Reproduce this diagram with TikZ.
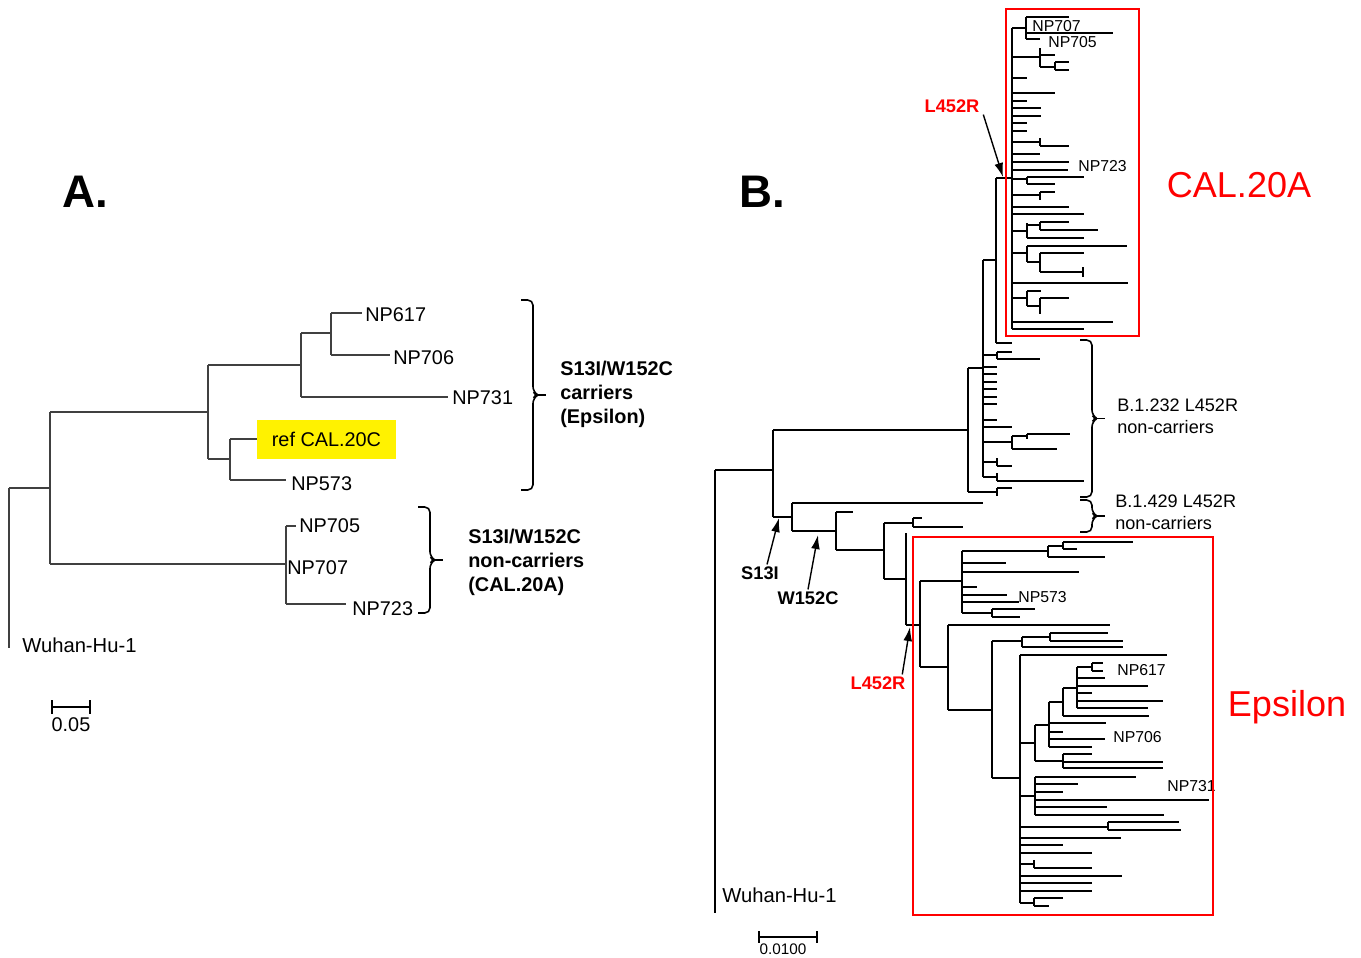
\documentclass[tikz,border=0pt]{standalone}
\usepackage{fontspec}
\setmainfont{Liberation Sans}
\usetikzlibrary{arrows.meta}

% one clade: vertical at x=#1 from #2 to #3, branches y/xend in #4
\newcommand\clade[4]{%
  \draw (#1,#2) -- (#1,#3);
  \foreach \yy/\xx in {#4} {\draw (#1,\yy) -- (\xx,\yy);}}
% curly bracket: ends at x=#1, from #2 to #3
\newcommand\grpbrace[3]{%
  \draw[brk] (#1,#2) -- (#1+12,#2) -- (#1+12,{(#2+#3)/2-3}) -- (#1+17,{(#2+#3)/2})
    -- (#1+12,{(#2+#3)/2+3}) -- (#1+12,#3) -- (#1,#3);
  \draw[line width=0.9pt] (#1+16,{(#2+#3)/2}) -- (#1+25,{(#2+#3)/2});}

\begin{document}
\begin{tikzpicture}[x=0.02cm,y=-0.02cm]
  \tikzset{
    lbla/.style={anchor=west,inner sep=0pt,font=\fontsize{11.3}{13}\selectfont},
    lblb/.style={anchor=west,inner sep=0pt,font=\fontsize{9}{10}\selectfont},
    root/.style={anchor=west,inner sep=0pt,font=\fontsize{11.5}{13}\selectfont},
    grpa/.style={anchor=west,align=left,inner sep=0pt,font=\fontsize{11.3}{13.6}\selectfont\bfseries},
    grpb/.style={anchor=west,align=left,inner sep=0pt,font=\fontsize{10.3}{12.5}\selectfont},
    mut/.style={inner sep=1pt,font=\fontsize{10.4}{12}\selectfont\bfseries},
    brk/.style={line width=0.9pt,rounded corners=3pt},
    arr/.style={-{Latex[length=8pt,width=5pt]},line width=0.8pt},
    clbox/.style={draw=red,line width=1.2pt},
    clname/.style={text=red,font=\fontsize{20.5}{24}\selectfont},
    panel/.style={font=\fontsize{26}{30}\selectfont\bfseries}
  }
  \useasboundingbox (0,0) rectangle (1361,957);

  %% A.
  \node[panel] (tA) at (85,192) {A.};
  \begin{scope}[line width=0.6pt,draw=black!75]
    \clade{9}{488}{648}{488/50}
    \clade{50}{412}{564}{412/208, 564/286}
    \clade{208}{365}{459}{365/301, 459/230}
    \clade{301}{333}{397}{333/331, 397/448}
    \clade{331}{313}{355}{313/362, 355/390}
    \clade{230}{439}{480}{439/258, 480/286}
    \clade{286}{526}{604}{526/296, 604/346}
  \end{scope}
  \node[lbla] (np617a) at (365,315) {NP617};
  \node[lbla] (np706a) at (393,358) {NP706};
  \node[lbla] (np731a) at (452,398) {NP731};
  \node[lbla,fill=yellow,inner xsep=0.29cm,minimum height=0.78cm] (refa) at (257,439) {ref CAL.20C};
  \node[lbla] (np573a) at (291,484) {NP573};
  \node[lbla] (np705a) at (299,526) {NP705};
  \node[lbla] (np707a) at (287,568) {NP707};
  \node[lbla] (np723a) at (352,609) {NP723};
  \node[root] (wuhana) at (22,645) {Wuhan-Hu-1};

  \grpbrace{521}{300}{490}
  \grpbrace{418}{507}{613}
  \node[grpa] (carr) at (560,394) {S13I/W152C\\carriers\\(Epsilon)};
  \node[grpa] (noncarr) at (468,562) {S13I/W152C\\non-carriers\\(CAL.20A)};

  \draw[line width=0.7pt] (52,707) -- (90,707) (52,700) -- (52,714) (90,700) -- (90,714);
  \node[lbla,anchor=center] (scalea) at (71,725) {0.05};

  %% B.
  \node[panel] (tB) at (762,192) {B.};
  \begin{scope}[line width=0.85pt]
    \clade{715}{470}{913}{470/773}
    \clade{773}{430}{517}{430/968, 517/792}
    % CAL.20A and B.1.232
    \clade{968}{368}{492}{368/983, 492/997}
    \clade{997}{488}{496}{488/1012}
    \clade{983}{260}{477}{260/996, 355/997, 367/997, 374/997, 382/997, 389/997, 397/997,
      404/997, 420/997, 427/1012, 442/1012, 462/997, 477/997}
    \clade{996}{178}{343}{178/1012, 343/1012}
    \clade{997}{352}{359}{352/1012, 359/1040}
    \clade{1012}{436}{449}{436/1027, 449/1057}
    \clade{1027}{434}{439}{434/1070}
    \clade{997}{458}{466}{466/1012}
    \clade{997}{473}{481}{481/1084}
    \clade{1012}{28}{329}{28/1026, 57/1040, 78/1027, 93/1055, 101/1027, 108/1041, 116/1041,
      123/1027, 131/1027, 142/1040, 154/1040, 162/1069, 170/1068, 179/1027, 195/1040,
      207/1069, 214/1084, 231/1027, 253/1027, 283/1128, 298/1027, 322/1113, 329/1084}
    \clade{1026}{17}{39}{17/1069, 33/1113, 39/1040}
    \clade{1040}{48}{67}{55/1055, 67/1055}
    \clade{1055}{62}{70}{62/1069, 70/1069}
    \clade{1040}{138}{146}{146/1069}
    \clade{1027}{177}{184}{177/1084, 184/1055}
    \clade{1040}{192}{200}{192/1055}
    \clade{1027}{223}{238}{225/1040, 238/1084}
    \clade{1040}{222}{230}{222/1069, 230/1098}
    \clade{1027}{246}{262}{246/1127, 262/1040}
    \clade{1040}{253}{272}{253/1084, 272/1083}
    \draw (1083,267) -- (1083,277);
    \clade{1027}{291}{306}{291/1041, 306/1040}
    \clade{1040}{298}{314}{298/1069}
    % B.1.429 and Epsilon
    \clade{792}{503}{531}{503/983, 531/836}
    \clade{836}{512}{550}{512/853, 550/884}
    \clade{884}{523}{579}{523/913, 579/906}
    \clade{913}{518}{527}{518/922, 527/963}
    \clade{906}{533}{625}{625/920}
    \clade{920}{581}{667}{581/962, 667/948}
    \clade{962}{551}{613}{551/1048, 563/1006, 572/1079, 587/977, 595/1007, 602/1019, 613/992}
    \clade{1048}{546}{557}{546/1063, 557/1105}
    \clade{1063}{542}{549}{542/1133, 549/1077}
    \clade{992}{609}{617}{609/1035, 617/1020}
    \clade{948}{625}{710}{625/1110, 710/992}
    \clade{992}{641}{778}{641/1022, 778/1020}
    \clade{1022}{637}{647}{637/1050, 647/1123}
    \clade{1050}{633}{641}{633/1108, 641/1123}
    \clade{1020}{655}{903}{655/1167, 743/1035, 796/1035, 827/1108, 838/1121, 845/1063,
      853/1092, 864/1034, 876/1122, 883/1092, 891/1092, 903/1034}
    \clade{1035}{725}{761}{725/1049, 761/1063}
    \clade{1049}{702}{747}{702/1063, 723/1106, 732/1063, 739/1105, 747/1092}
    \clade{1063}{688}{716}{688/1077, 716/1149}
    \clade{1077}{667}{708}{667/1092, 678/1105, 686/1148, 693/1092, 701/1163, 708/1148}
    \clade{1092}{663}{671}{663/1103, 671/1103}
    \clade{1063}{754}{768}{754/1092, 762/1163, 768/1163}
    \clade{1035}{777}{815}{777/1136, 784/1078, 792/1063, 800/1209, 807/1107, 815/1164}
    \clade{1108}{822}{830}{822/1179, 830/1181}
    \clade{1034}{860}{868}{868/1092}
    \clade{1034}{898}{906}{898/1063, 906/1049}
  \end{scope}

  \node[lblb] (np707b) at (1032,26) {NP707};
  \node[lblb] (np705b) at (1048,42) {NP705};
  \node[lblb] (np723b) at (1078,166) {NP723};
  \node[lblb] (np573b) at (1018,597) {NP573};
  \node[lblb] (np617b) at (1117,670) {NP617};
  \node[lblb] (np706b) at (1113,737) {NP706};
  \node[lblb] (np731b) at (1167,786) {NP731};
  \node[root] (wuhanb) at (722,895) {Wuhan-Hu-1};

  \draw[clbox] (1006,9) rectangle (1139,336);
  \draw[clbox] (913,537) rectangle (1213,915);
  \node[clname] (cal20a) at (1239,185) {CAL.20A};
  \node[clname] (eps) at (1287,707) {Epsilon};

  \grpbrace{1080}{340}{497}
  \grpbrace{1080}{500}{532}
  \node[grpb] (b1232) at (1117,416) {B.1.232 L452R\\non-carriers};
  \node[grpb] (b1429) at (1115,512) {B.1.429 L452R\\non-carriers};

  \coordinate (calnode) at (1003,177);
  \coordinate (epsnode) at (910,627);
  \coordinate (s13node) at (779,518);
  \coordinate (w152node) at (818,535);
  \node[mut,text=red] (l452a) at (952,106) {L452R};
  \node[mut,text=red] (l452b) at (878,683) {L452R};
  \node[mut] (s13i) at (760,573) {S13I};
  \node[mut] (w152c) at (808,598) {W152C};
  \draw[arr] ([xshift=1pt]l452a.south east) -- (calnode);
  \draw[arr] ([xshift=-3pt]l452b.north east) -- (epsnode);
  \draw[arr] ([xshift=4pt]s13i.north) -- (s13node);
  \draw[arr] (w152c.north) -- (w152node);

  \draw[line width=0.8pt] (759,937) -- (817,937) (759,931) -- (759,943) (817,931) -- (817,943);
  \node[inner sep=0pt,font=\fontsize{8.7}{10}\selectfont] (scaleb) at (783,949) {0.0100};
\end{tikzpicture}
\end{document}
